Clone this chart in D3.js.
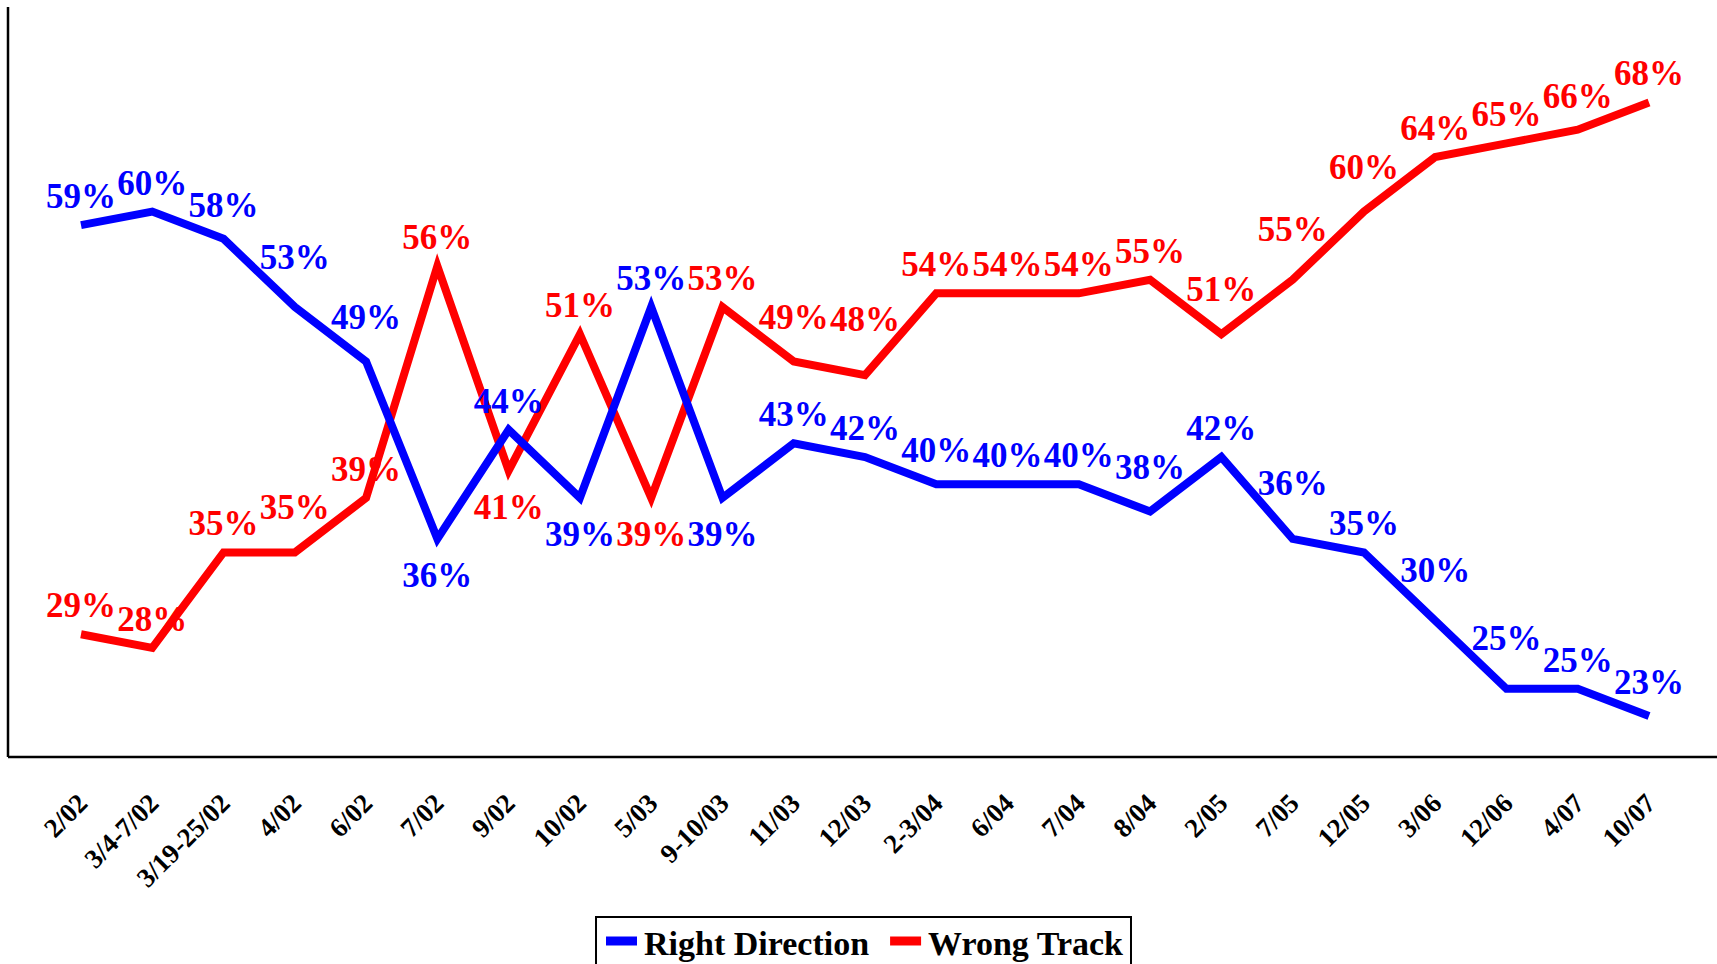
<!DOCTYPE html>
<html>
<head>
<meta charset="utf-8">
<script src="https://cdn.jsdelivr.net/npm/d3@7"></script>
<style>
  body { margin: 0; background: #fff; }
  text { font-family: "Liberation Serif", "Times New Roman", serif; font-weight: bold; }
</style>
</head>
<body>
<svg id="chart" width="1717" height="964"></svg>
<script>
// poll dates
var categories = ["2/02", "3/4-7/02", "3/19-25/02", "4/02", "6/02", "7/02", "9/02", "10/02",
    "5/03", "9-10/03", "11/03", "12/03", "2-3/04", "6/04", "7/04", "8/04", "2/05", "7/05",
    "12/05", "3/06", "12/06", "4/07", "10/07"];

var rightDirection = [59, 60, 58, 53, 49, 36, 44, 39, 53, 39, 43, 42, 40, 40, 40, 38, 42, 36, 35, 30, 25, 25, 23];
var wrongTrack = [29, 28, 35, 35, 39, 56, 41, 51, 39, 53, 49, 48, 54, 54, 54, 55, 51, 55, 60, 64, 65, 66, 68];

var seriesNames = ["Right Direction", "Wrong Track"];
var seriesColors = ["#0000ff", "#ff0000"];

var svg = d3.select("#chart");

var x = d3.scalePoint().domain(categories).range([81, 1649]);
var y = d3.scaleLinear().domain([20, 75]).range([757, 7]);

// axes: only the left and bottom lines, no ticks
svg.append("line")
    .attr("x1", 8).attr("x2", 8)
    .attr("y1", y(75)).attr("y2", y(20))
    .attr("stroke", "#000").attr("stroke-width", 2.5);

var xAxis = d3.axisBottom(x).tickSize(0).tickFormat("");
var gx = svg.append("g").attr("transform", "translate(0," + y(20) + ")").call(xAxis);
gx.select(".domain").attr("d", "M8,0H1717").attr("stroke", "#000").attr("stroke-width", 2.5);

// rotated category labels
gx.selectAll(".tick text").remove();
categories.forEach(function(c) {
    svg.append("text")
        .attr("transform", "translate(" + (x(c) + 8) + "," + (y(20) + 48) + ") rotate(-45)")
        .attr("text-anchor", "end")
        .attr("font-size", 27)
        .attr("fill", "#000")
        .text(c);
});

var allSeries = [rightDirection, wrongTrack];

var line = d3.line()
    .x(function(d, i) { return x(categories[i]); })
    .y(function(d) { return y(d); });

// red first, blue on top
[1, 0].forEach(function(s) {
    svg.append("path")
        .datum(allSeries[s])
        .attr("d", line)
        .attr("fill", "none")
        .attr("stroke", seriesColors[s])
        .attr("stroke-width", 8)
        .attr("stroke-linejoin", "miter");
});

// data labels: deep valleys get the label underneath,
// labels next to a moderate rise are lifted off the line
allSeries.forEach(function(values, s) {
    values.forEach(function(v, i) {
        var prev = i > 0 ? values[i - 1] : v;
        var next = i < values.length - 1 ? values[i + 1] : v;
        var below = prev - v >= 5 && next > v;
        var rise = Math.max(prev - v, next - v, 0);
        var lift = rise <= 6 ? Math.max(5.5 * rise - 6, 0) : 0;
        var dy = below ? 48 : -17 - lift;
        svg.append("text")
            .attr("x", x(categories[i]))
            .attr("y", y(v) + dy)
            .attr("text-anchor", "middle")
            .attr("font-size", 35)
            .attr("fill", seriesColors[s])
            .text(v + "%");
    });
});

// legend
var legend = svg.append("g");
var box = legend.append("rect")
    .attr("y", 917).attr("height", 60)
    .attr("fill", "#fff").attr("stroke", "#000").attr("stroke-width", 2);

var lx = 0;
var items = [];
seriesNames.forEach(function(name, s) {
    var g = legend.append("g");
    g.append("line")
        .attr("x1", 0).attr("x2", 31)
        .attr("y1", 941).attr("y2", 941)
        .attr("stroke", seriesColors[s]).attr("stroke-width", 9);
    var t = g.append("text")
        .attr("x", 38).attr("y", 955)
        .attr("font-size", 34)
        .attr("fill", "#000")
        .text(name);
    var w = 38 + t.node().getComputedTextLength();
    items.push({ g: g, off: lx });
    lx += w + 21;
});
var legendW = lx - 21 + 18;
var legendX = 863.5 - legendW / 2;
box.attr("x", legendX).attr("width", legendW);
items.forEach(function(it) {
    it.g.attr("transform", "translate(" + (legendX + 10 + it.off) + ",0)");
});
</script>
</body>
</html>
